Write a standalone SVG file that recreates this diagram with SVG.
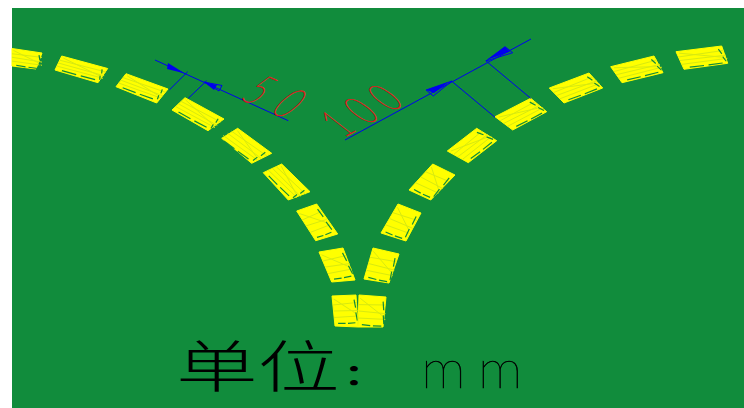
<svg xmlns="http://www.w3.org/2000/svg" width="744" height="408" viewBox="0 0 744 408">
<style>
.d{fill:#ffff00;stroke:#ffff00;stroke-width:1;stroke-linejoin:round}
.h{fill:none;stroke:#d8ea10;stroke-width:1;vector-effect:non-scaling-stroke}
.s{fill:none;stroke:#118c3c;stroke-width:1.2;vector-effect:non-scaling-stroke}
.b{fill:none;stroke:#0000ee;stroke-width:1}
.a{fill:#0000ee;stroke:none}
.n{font-family:Lato,"Liberation Sans",sans-serif;font-weight:100}
</style>
<defs>
<g id="hatch">
<path class="h" d="M0 .3L1 .25M0 .5L1 .52M0 .72L1 .7M.05 .1L.9 .6"/>
<path class="s" d="M.9 .15L.93 .42M.92 .58L.95 .85M.14 .92L.45 .93M.55 .93L.86 .92"/>
</g>
</defs>
<rect x="12" y="8" width="732" height="400" fill="#118c3c"/>
<g id="dashes">
<polygon class="d" points="12,48.5 42,53 36,69 12,66"/><use href="#hatch" transform="matrix(30 4.5 0 17.5 12 48.5)"/>
<polygon class="d" points="61.7,56 107.7,68.5 98,82.7 55,70"/><use href="#hatch" transform="matrix(46 12.5 -6.7 14 61.7 56)"/>
<polygon class="d" points="126,73.7 168,89 156.7,103 116,86.7"/><use href="#hatch" transform="matrix(42 15.3 -10 13 126 73.7)"/>
<polygon class="d" points="185,97.7 224,119 208,130.7 172,110"/><use href="#hatch" transform="matrix(39 21.3 -13 12.3 185 97.7)"/>
<polygon class="d" points="237.7,128.3 271.7,153.3 251.7,163.3 221.7,138.3"/><use href="#hatch" transform="matrix(34 25 -20 10 237.7 128.3)"/>
<polygon class="d" points="281.7,164 310,191.7 288.3,200 263.3,172.7"/><use href="#hatch" transform="matrix(28.3 27.7 -18.4 8.7 281.7 164)"/>
<polygon class="d" points="296.7,211 316.7,204 337.7,234 315.7,240.7"/><use href="#hatch" transform="matrix(20 -7 19 29.7 296.7 211)"/>
<polygon class="d" points="319,252 343,248 355,280 331.7,282"/><use href="#hatch" transform="matrix(24 -4 12.7 30 319 252)"/>
<polygon class="d" points="332,296 356,295 358,327 335,326"/><use href="#hatch" transform="matrix(24 -1 3 30 332 296)"/>
<polygon class="d" points="359,295 386,297 383,327 358,327"/><use href="#hatch" transform="matrix(27 2 -1 32 359 295)"/>
<polygon class="d" points="373,248 399,254 389,283 364,279"/><use href="#hatch" transform="matrix(26 6 -9 31 373 248)"/>
<polygon class="d" points="398,204 421,213 406,241 381,233"/><use href="#hatch" transform="matrix(23 9 -17 29 398 204)"/>
<polygon class="d" points="432.7,164 455,175 430.7,200 409,190"/><use href="#hatch" transform="matrix(22.3 11 -23.7 26 432.7 164)"/>
<polygon class="d" points="447.3,151 476.7,128.3 496.7,140.7 468.3,162.7"/><use href="#hatch" transform="matrix(29.4 -22.7 21 11.7 447.3 151)"/>
<polygon class="d" points="495,116.7 530.7,98.3 546.7,111.7 512.7,130"/><use href="#hatch" transform="matrix(35.7 -18.4 17.7 13.3 495 116.7)"/>
<polygon class="d" points="549.3,88 589,73 602.7,88 564,103"/><use href="#hatch" transform="matrix(39.7 -15 14.7 15 549.3 88)"/>
<polygon class="d" points="610.7,66.7 654,56 663,72.7 622,82.7"/><use href="#hatch" transform="matrix(43.3 -10.7 11.3 16 610.7 66.7)"/>
<polygon class="d" points="676,51.7 721.7,46 727.7,63.3 684,69.3"/><use href="#hatch" transform="matrix(45.7 -5.7 8 17.6 676 51.7)"/>
</g>
<g id="connectors">
<path class="b" d="M155 60L288.3 120.7M187.7 71.7L169.3 90M206.7 80.7L188.3 98.3"/>
<polygon class="a" points="185,73.5 168,63 167,69"/>
<polygon class="a" points="204,82 217,85 214,90"/>
<path class="b" d="M204 82L222 85.5L219 91Z"/>
<path class="b" d="M345 140L531 39M452.3 81.7L495 117.3M485.7 60.7L530.7 98.3"/>
<polygon class="a" points="426,90 449,82 434,93"/>
<path class="b" d="M452 81L433.3 96L426 90Z"/>
<polygon class="a" points="486.7,60 505,46.7 510,51.7"/>
<path class="b" d="M486 61L512.7 52.7L505 46.7Z"/>
</g>
<g id="labels">
<text class="n" font-size="50" fill="#d81e1e" stroke="#d81e1e" stroke-width=".9" x="0 55" y="0" transform="matrix(.55 .24 -.73 .68 238.7 98.5)">50</text>
<text class="n" font-size="48" fill="#d81e1e" stroke="#d81e1e" stroke-width=".9" x="0 45 90" y="0" transform="matrix(.53 -.29 .79 .62 343 138)">100</text>
<text font-family="'Noto Sans CJK SC',sans-serif" font-size="56" font-weight="300" fill="#000" transform="matrix(1.46 0 0 1 176 387)">单位<tspan font-size="28" font-weight="700" dx="3" dy="-2">：</tspan></text>
<text class="n" font-size="54" fill="#000" stroke="#000" stroke-width=".5" x="0 54" y="0" transform="matrix(1.05 0 0 1 421 388)">mm</text>
</g>
</svg>
